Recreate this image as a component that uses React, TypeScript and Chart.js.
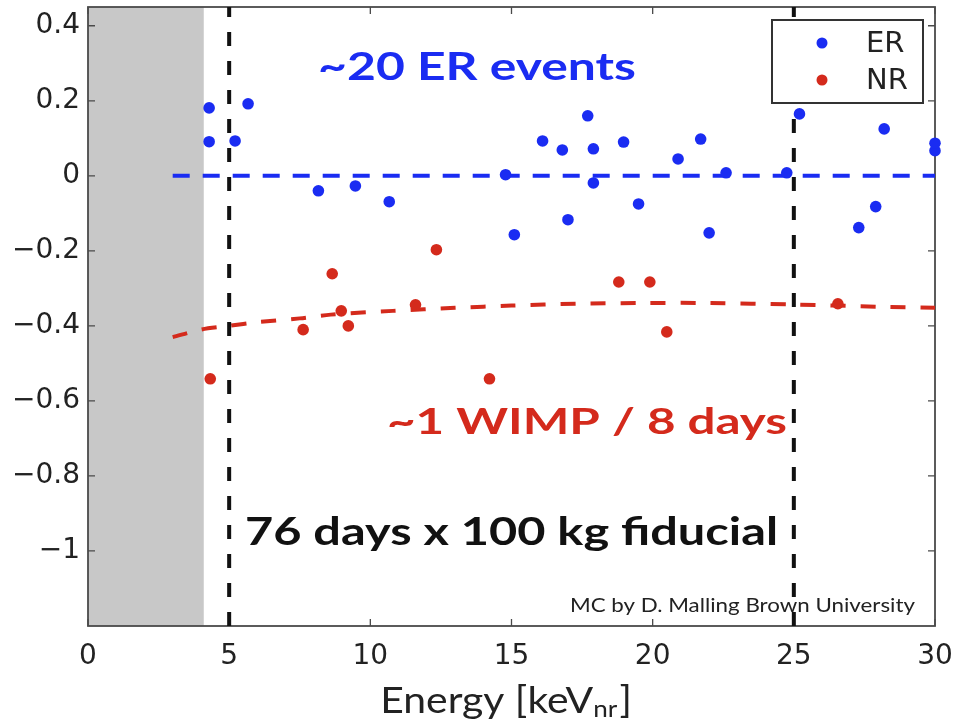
import React, { useEffect, useRef } from 'react';
import { Chart, registerables } from 'chart.js';

Chart.register(...registerables);

// ---- axis ranges and ticks ----
const xRange = [0, 30];
const yRange = [-1.2, 0.45];
const xTickValues = [0, 5, 10, 15, 20, 25, 30];
const yTickValues = [0.4, 0.2, 0, -0.2, -0.4, -0.6, -0.8, -1];

// ---- regions / reference lines ----
const shadedEnergy = [0, 4.1];
const thresholdEnergy = [5, 25];

// ---- ER events ----
const erEnergy = [4.29, 4.29, 5.21, 5.67, 8.16, 9.47, 10.67, 14.79, 15.1, 16.1, 16.8, 17.0, 17.7, 17.9, 17.9, 18.97, 19.5, 20.9, 21.7, 22.0, 22.6, 24.75, 25.2, 27.3, 27.9, 28.2, 30.0, 30.0];
const erValue = [0.181, 0.091, 0.093, 0.192, -0.04, -0.027, -0.069, 0.003, -0.157, 0.093, 0.069, -0.117, 0.16, 0.072, -0.019, 0.09, -0.075, 0.045, 0.098, -0.152, 0.008, 0.008, 0.165, -0.138, -0.082, 0.125, 0.067, 0.087];

// ---- NR events ----
const nrEnergy = [4.33, 7.62, 8.65, 8.97, 9.22, 11.6, 12.34, 14.22, 18.8, 19.9, 20.5, 26.56];
const nrValue = [-0.541, -0.41, -0.261, -0.36, -0.40, -0.344, -0.197, -0.541, -0.283, -0.283, -0.416, -0.341];

// ---- band means ----
const erMeanEnergy = [3, 30];
const erMeanValue = [0, 0];
const nrMeanEnergy = [3, 4, 5, 6, 7.5, 8.6, 10.8, 13, 15, 17.3, 19.5, 22, 25, 28, 30];
const nrMeanValue = [-0.43, -0.41, -0.40, -0.39, -0.38, -0.37, -0.36, -0.352, -0.346, -0.341, -0.339, -0.339, -0.343, -0.349, -0.352];

// ---- texts ----
const seriesLabels = ['ER', 'NR'];
const annotationTexts = ['~20 ER events', '~1 WIMP / 8 days', '76 days x 100 kg fiducial', 'MC by D. Malling Brown University'];
const xTitleParts = ['Energy [keV', 'nr', ']'];

const BLUE = '#1a2cf2';
const RED = '#d42a1c';
const GRAY = '#c8c8c8';
const FRAME = '#4a4a4a';

const pts = (xs: number[], ys: number[]) => xs.map((x, i) => ({ x, y: ys[i] }));

function fitText(ctx: CanvasRenderingContext2D, text: string, font: string, color: string, left: number, right: number, baseline: number) {
  ctx.save();
  ctx.font = font;
  const w = ctx.measureText(text).width;
  const s = (right - left) / w;
  ctx.translate(left, baseline);
  ctx.scale(s, 1);
  ctx.fillStyle = color;
  ctx.textAlign = 'left';
  ctx.textBaseline = 'alphabetic';
  ctx.fillText(text, 0, 0);
  ctx.restore();
}

const decor = {
  id: 'decor',
  beforeDatasetsDraw(chart: any) {
    const { ctx, chartArea: a, scales } = chart;
    const x = scales.x, y = scales.y;
    ctx.save();
    const x0 = x.getPixelForValue(shadedEnergy[0]);
    const x1 = x.getPixelForValue(shadedEnergy[1]);
    ctx.fillStyle = GRAY;
    ctx.fillRect(x0, a.top, x1 - x0, a.bottom - a.top);
    ctx.strokeStyle = FRAME;
    ctx.lineWidth = 1.8;
    ctx.strokeRect(a.left, a.top, a.right - a.left, a.bottom - a.top);
    ctx.lineWidth = 1.3;
    const tl = 7;
    ctx.beginPath();
    xTickValues.forEach((v) => {
      const px = x.getPixelForValue(v);
      ctx.moveTo(px, a.bottom); ctx.lineTo(px, a.bottom - tl);
      ctx.moveTo(px, a.top); ctx.lineTo(px, a.top + tl);
    });
    yTickValues.forEach((v) => {
      const py = y.getPixelForValue(v);
      ctx.moveTo(a.left, py); ctx.lineTo(a.left + tl, py);
      ctx.moveTo(a.right, py); ctx.lineTo(a.right - tl, py);
    });
    ctx.stroke();
    ctx.restore();
  },
  afterDatasetsDraw(chart: any) {
    const { ctx, chartArea: a, scales } = chart;
    const x = scales.x, y = scales.y;
    const X = (v: number) => x.getPixelForValue(v);
    const Y = (v: number) => y.getPixelForValue(v);

    fitText(ctx, annotationTexts[0], 'bold 39px Lato', BLUE, X(8.15), X(19.41), Y(0.256));
    fitText(ctx, annotationTexts[1], 'bold 37px Lato', RED, X(10.59), X(24.76), Y(-0.688));
    fitText(ctx, annotationTexts[2], 'bold 39px Lato', '#111', X(5.56), X(24.44), Y(-0.984));
    fitText(ctx, annotationTexts[3], '20px Lato', '#222', X(17.07), X(29.29), Y(-1.163));

    // legend
    ctx.save();
    const lw = 151, lh = 83;
    const lx = a.right - 12 - lw, ly = a.top + 13;
    ctx.fillStyle = '#fff';
    ctx.fillRect(lx, ly, lw, lh);
    ctx.strokeStyle = '#333';
    ctx.lineWidth = 2;
    ctx.strokeRect(lx, ly, lw, lh);
    const colors = [BLUE, RED];
    ctx.font = '29px "DejaVu Sans"';
    ctx.textBaseline = 'middle';
    ctx.textAlign = 'left';
    seriesLabels.forEach((lab, i) => {
      const cy = ly + 23 + i * 37;
      ctx.beginPath();
      ctx.fillStyle = colors[i];
      ctx.arc(lx + 50, cy, 5.5, 0, Math.PI * 2);
      ctx.fill();
      ctx.fillStyle = '#222';
      ctx.fillText(lab, lx + 94, cy + 1);
    });
    ctx.restore();

    // x title with subscript
    ctx.save();
    const left = X(10.35), right = X(19.27);
    const base = a.bottom + 87;
    const fMain = '36px Lato', fSub = '23px Lato';
    ctx.font = fMain;
    const w1 = ctx.measureText(xTitleParts[0]).width;
    const w3 = ctx.measureText(xTitleParts[2]).width;
    ctx.font = fSub;
    const w2 = ctx.measureText(xTitleParts[1]).width;
    const s = (right - left) / (w1 + w2 + w3 + 2);
    ctx.translate(left, base);
    ctx.scale(s, 1);
    ctx.fillStyle = '#222';
    ctx.textBaseline = 'alphabetic';
    ctx.font = fMain;
    ctx.fillText(xTitleParts[0], 0, 0);
    ctx.font = fSub;
    ctx.fillText(xTitleParts[1], w1, 4);
    ctx.font = fMain;
    ctx.fillText(xTitleParts[2], w1 + w2 + 2, 0);
    ctx.restore();
  },
};

function yLabel(v: number): string {
  if (v === 0) return '0';
  const a = Math.abs(v);
  const s = Number.isInteger(a) ? String(a) : a.toFixed(1);
  return (v < 0 ? '\u2212' : '') + s;
}

export default function App() {
  const ref = useRef<HTMLCanvasElement | null>(null);
  useEffect(() => {
    if (!ref.current) return;
    const chart = new Chart(ref.current, {
      type: 'scatter',
      data: {
        datasets: [
          {
            label: seriesLabels[0],
            data: pts(erEnergy, erValue),
            backgroundColor: BLUE,
            borderWidth: 0,
            pointRadius: 5.8,
            clip: false as any,
            order: 0,
          },
          {
            label: seriesLabels[1],
            data: pts(nrEnergy, nrValue),
            backgroundColor: RED,
            borderWidth: 0,
            pointRadius: 5.8,
            clip: false as any,
            order: 0,
          },
          ...thresholdEnergy.map((e) => ({
            label: 'threshold',
            data: [{ x: e, y: yRange[0] }, { x: e, y: yRange[1] }],
            showLine: true,
            borderColor: '#111',
            borderWidth: 4,
            borderDash: [14, 15],
            pointRadius: 0,
            order: 1,
          })),
          {
            label: 'ER mean',
            data: pts(erMeanEnergy, erMeanValue),
            showLine: true,
            borderColor: BLUE,
            borderWidth: 4,
            borderDash: [17, 13],
            pointRadius: 0,
            order: 2,
          },
          {
            label: 'NR mean',
            data: pts(nrMeanEnergy, nrMeanValue),
            showLine: true,
            borderColor: RED,
            borderWidth: 4,
            borderDash: [15, 15],
            pointRadius: 0,
            tension: 0.3,
            order: 2,
          },
        ],
      },
      options: {
        animation: false,
        responsive: false,
        devicePixelRatio: 1,
        layout: { padding: { top: 7, right: 23, left: 0, bottom: 0 } },
        plugins: { legend: { display: false }, tooltip: { enabled: false } },
        scales: {
          x: {
            type: 'linear',
            min: xRange[0],
            max: xRange[1],
            afterBuildTicks: (s: any) => { s.ticks = xTickValues.map((v) => ({ value: v })); },
            afterFit: (s: any) => { s.height = 101; s.paddingLeft = 0; s.paddingRight = 0; },
            ticks: {
              font: { family: 'DejaVu Sans', size: 28 },
              color: '#222',
              padding: 14,
              maxRotation: 0,
              autoSkip: false,
              callback: (v: any) => String(v),
            },
            grid: { display: false, drawTicks: false },
            border: { display: false },
          },
          y: {
            type: 'linear',
            min: yRange[0],
            max: yRange[1],
            afterBuildTicks: (s: any) => { s.ticks = yTickValues.map((v) => ({ value: v })); },
            afterFit: (s: any) => { s.width = 88; s.paddingTop = 0; s.paddingBottom = 0; },
            ticks: {
              font: { family: 'DejaVu Sans', size: 28 },
              color: '#222',
              padding: 8,
              autoSkip: false,
              callback: (v: any) => yLabel(Number(v)),
            },
            grid: { display: false, drawTicks: false },
            border: { display: false },
          },
        },
      },
      plugins: [decor],
    });
    return () => chart.destroy();
  }, []);
  return (
    <div style={{ position: 'absolute', left: 0, top: 0, width: 958, height: 727, background: '#fff' }}>
      <canvas ref={ref} width={958} height={727} style={{ display: 'block', width: 958, height: 727 }} />
    </div>
  );
}
